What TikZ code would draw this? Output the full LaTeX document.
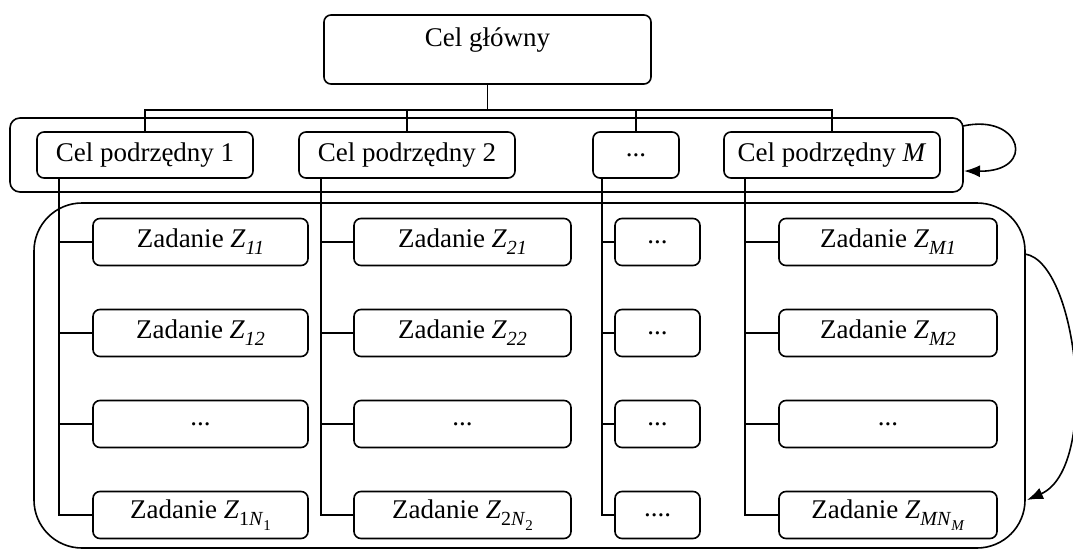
\documentclass[tikz,border=0pt]{standalone}
\usepackage{fontspec}
\setmainfont{Liberation Serif}
\usetikzlibrary{arrows.meta,calc}
\newcommand{\lsub}[1]{\raisebox{-0.26em}{\fontsize{20}{20}\selectfont #1}}
\newcommand{\llsub}[1]{\raisebox{-0.22em}{\fontsize{15}{15}\selectfont #1}}
\tikzset{
  box/.style={draw, rounded corners=7pt, line width=1.6pt, inner sep=0pt, font=\fontsize{27}{32}\selectfont},
  cpbox/.style={box, minimum height=46pt},
  task/.style={box, minimum height=47pt},
  band/.style={draw, line width=1.6pt, inner sep=0pt},
  wire/.style={line width=1.6pt},
  loopar/.style={line width=1.6pt, -{Latex[length=16pt,width=12pt]}},
}
\begin{document}
\begin{tikzpicture}[x=1pt,y=-1pt]
\useasboundingbox (0,0) rectangle (1073,551);
% bands
\node[band, rounded corners=10pt, minimum width=953pt, minimum height=74pt] (b1) at (486.5,155) {};
\node[band, rounded corners=48pt, minimum width=991pt, minimum height=345pt] (b2) at (529.5,375.5) {};
% main goal
\node[box, minimum width=327pt, minimum height=69pt, text height=10pt, text depth=16pt] (main) at (487.5,49.5) {Cel główny};
% sub goals
\node[cpbox, minimum width=216pt] (cp1) at (145,155) {Cel podrzędny 1};
\node[cpbox, minimum width=216pt] (cp2) at (407,155) {Cel podrzędny 2};
\node[cpbox, minimum width=86pt] (cpd) at (636,155) {...};
\node[cpbox, minimum width=216pt] (cpM) at (832,155) {Cel podrzędny \textit{M}};
% tasks column 1
\node[task, minimum width=215pt] (t11) at (200.5,242) {Zadanie \textit{Z}\lsub{\textit{11}}};
\node[task, minimum width=215pt] (t12) at (200.5,333) {Zadanie \textit{Z}\lsub{\textit{12}}};
\node[task, minimum width=215pt] (t1d) at (200.5,424) {...};
\node[task, minimum width=215pt] (t1n) at (200.5,515) {Zadanie \textit{Z}\lsub{1\textit{N}\llsub{1}}};
% column 2
\node[task, minimum width=217pt] (t21) at (462.5,242) {Zadanie \textit{Z}\lsub{\textit{21}}};
\node[task, minimum width=217pt] (t22) at (462.5,333) {Zadanie \textit{Z}\lsub{\textit{22}}};
\node[task, minimum width=217pt] (t2d) at (462.5,424) {...};
\node[task, minimum width=217pt] (t2n) at (462.5,515) {Zadanie \textit{Z}\lsub{2\textit{N}\llsub{2}}};
% column 3
\node[task, minimum width=85pt] (t31) at (657.5,242) {...};
\node[task, minimum width=85pt] (t32) at (657.5,333) {...};
\node[task, minimum width=85pt] (t3d) at (657.5,424) {...};
\node[task, minimum width=85pt] (t3n) at (657.5,515) {....};
% column 4
\node[task, minimum width=218pt] (t41) at (888,242) {Zadanie \textit{Z}\lsub{\textit{M1}}};
\node[task, minimum width=218pt] (t42) at (888,333) {Zadanie \textit{Z}\lsub{\textit{M2}}};
\node[task, minimum width=218pt] (t4d) at (888,424) {...};
\node[task, minimum width=218pt] (t4n) at (888,515) {Zadanie \textit{Z}\lsub{\textit{MN}\llsub{\textit{M}}}};
% top tree
\coordinate (bus) at (487.5,110);
\draw[wire] (main.south) -- (bus);
\draw[wire] (cp1.north) -- (cp1.north |- bus) -- (cpM.north |- bus) -- (cpM.north);
\draw[wire] (cp2.north) -- (cp2.north |- bus);
\draw[wire] (cpd.north) -- (cpd.north |- bus);
% column trunks
\coordinate (c1) at ($(cp1.south west)+(23,0)$);
\coordinate (c2) at ($(cp2.south west)+(23,0)$);
\coordinate (c3) at ($(cpd.south west)+(10,0)$);
\coordinate (c4) at ($(cpM.south west)+(22,0)$);
\draw[wire] (c1) |- (t1n.west);
\draw[wire] (c2) |- (t2n.west);
\draw[wire] (c3) |- (t3n.west);
\draw[wire] (c4) |- (t4n.west);
\foreach \t in {t11,t12,t1d} \draw[wire] (\t.west) -- (\t.west -| c1);
\foreach \t in {t21,t22,t2d} \draw[wire] (\t.west) -- (\t.west -| c2);
\foreach \t in {t31,t32,t3d} \draw[wire] (\t.west) -- (\t.west -| c3);
\foreach \t in {t41,t42,t4d} \draw[wire] (\t.west) -- (\t.west -| c4);
% loop arrows
\coordinate (a1s) at (963,126);
\coordinate (a1e) at (964,171);
\draw[loopar] (a1s) .. controls (1022,113) and (1037,172) .. (a1e);
\coordinate (a2s) at (1025,254);
\coordinate (a2e) at (1027,500);
\draw[loopar] (a2s) .. controls (1078,262) and (1100,468) .. (a2e);
\end{tikzpicture}
\end{document}
